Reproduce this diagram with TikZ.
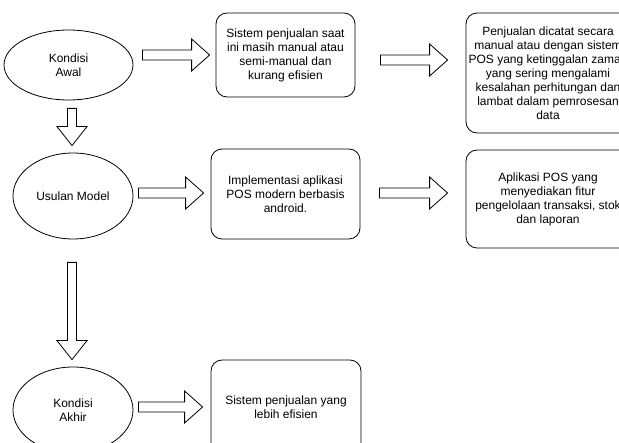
\documentclass[tikz,border=0pt]{standalone}
\usepackage{fontspec}
\setmainfont{Liberation Sans}
\usetikzlibrary{calc}
\usetikzlibrary{shapes}

\begin{document}
\begin{tikzpicture}[x=1pt, y=-1pt,
    every node/.style={font=\fontsize{12}{14}\selectfont, align=center, inner sep=0pt},
    kondisi/.style={draw, ellipse, line width=0.8pt},
    kotak/.style={draw, rounded corners=11pt, line width=0.8pt},
    panahkanan/.style={draw, fill=white, line width=0.8pt, line join=miter,
        to path={($(\tikztostart)+(0,-5)$) -- ($(\tikztotarget)+(-18,-5)$)
            -- ($(\tikztotarget)+(-18,-16)$) -- (\tikztotarget)
            -- ($(\tikztotarget)+(-18,16)$) -- ($(\tikztotarget)+(-18,5)$)
            -- ($(\tikztostart)+(0,5)$) -- cycle}},
    panahbawah/.style={draw, fill=white, line width=0.8pt, line join=miter,
        to path={($(\tikztostart)+(-4.5,0)$) -- ($(\tikztotarget)+(-4.5,-19)$)
            -- ($(\tikztotarget)+(-15,-19)$) -- (\tikztotarget)
            -- ($(\tikztotarget)+(15,-19)$) -- ($(\tikztotarget)+(4.5,-19)$)
            -- ($(\tikztostart)+(4.5,0)$) -- cycle}}]
    \useasboundingbox (0,0) rectangle (619,443);
    \clip (0,0) rectangle (619,443);

    \node[kondisi, minimum width=129pt, minimum height=70pt] (awal) at (68.5,65) {Kondisi\\Awal};
    \node[kondisi, minimum width=120pt, minimum height=86pt] (usulan) at (73,196) {Usulan Model};
    \node[kondisi, minimum width=120pt, minimum height=86pt] (akhir) at (73,410) {Kondisi\\Akhir};

    \node[kotak, minimum width=139pt, minimum height=84pt] (skrg) at (285.5,55)
        {Sistem penjualan saat\\ini masih manual atau\\semi-manual dan\\kurang efisien};
    \node[kotak, minimum width=164pt, minimum height=120pt] (dicatat) at (548,73)
        {Penjualan dicatat secara\\manual atau dengan sistem\\POS yang ketinggalan zaman\\yang sering mengalami\\kesalahan perhitungan dan\\lambat dalam pemrosesan\\data};
    \node[kotak, minimum width=149pt, minimum height=90pt] (implementasi) at (285.5,194)
        {Implementasi aplikasi\\POS modern berbasis\\android.};
    \node[kotak, minimum width=164pt, minimum height=98pt] (fitur) at (548,199)
        {Aplikasi POS yang\\menyediakan fitur\\pengelolaan transaksi, stok\\dan laporan};
    \node[kotak, minimum width=150pt, minimum height=94pt] (efisien) at (286,407)
        {Sistem penjualan yang\\lebih efisien};

    \draw[panahkanan] ($(awal.east |- skrg.west)+(9,0)$) to ($(skrg.west)+(-6,0)$);
    \draw[panahkanan] ($(skrg.east)+(25,5)$) to ($(dicatat.west)+(-18,-13)$);
    \draw[panahkanan] ($(usulan.east)+(5,-3)$) to ($(implementasi.west)+(-7,-1)$);
    \draw[panahkanan] ($(implementasi.east)+(19,-1)$) to ($(fitur.west)+(-18,-6)$);
    \draw[panahkanan] ($(akhir.east)+(5,-3)$) to ($(efisien.west)+(-8,0)$);
    \draw[panahbawah] ($(awal.south)+(3.5,8)$) to ($(usulan.north)+(-1,-7)$);
    \draw[panahbawah] ($(usulan.south)+(-1,23)$) to ($(akhir.north)+(-1,-7)$);
\end{tikzpicture}
\end{document}
